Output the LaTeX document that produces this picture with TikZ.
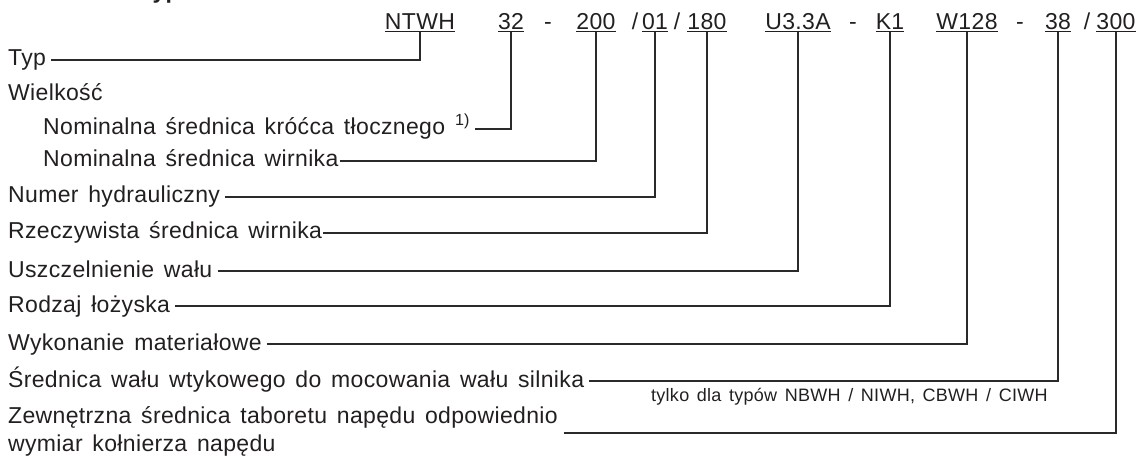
\documentclass[tikz,border=0pt]{standalone}
\usepackage{fontspec}
\setmainfont{Liberation Sans}[LetterSpace=1.5,WordSpace=1.45]
\newfontfamily\headfont{Liberation Sans}[LetterSpace=1.5]
\definecolor{txt}{HTML}{231F20}
\definecolor{ln}{HTML}{2A2A2A}
\begin{document}
\begin{tikzpicture}[x=1pt,y=-1pt,
  lbl/.style={anchor=base west,inner sep=0pt,text=txt,font=\fontsize{23}{28}\selectfont},
  code/.style={anchor=base,inner sep=0pt,text=txt,font=\fontsize{23}{28}\selectfont},
  note/.style={anchor=base west,inner sep=0pt,text=txt,font=\fontsize{18}{22}\selectfont},
  conn/.style={draw=ln,line width=1.2pt}]
\useasboundingbox (0,0) rectangle (1138,457);
% cut-off heading
\node[anchor=base west,inner sep=0pt,text=txt,font=\headfont\bfseries\fontsize{23}{28}\selectfont] (head) at (8,-1.5) {Oznaczenie typu};
% code row
\node[code] (cNTWH) at (420,30) {\underline{NTWH}};
\node[code] (c32) at (511,30) {\underline{32}};
\node[code] (s1) at (548,30) {-};
\node[code] (c200) at (596,30) {\underline{200}};
\node[code] (s2) at (635,30) {/};
\node[code] (c01) at (655,30) {\underline{01}};
\node[code] (s3) at (677,30) {/};
\node[code] (c180) at (707,30) {\underline{180}};
\node[code] (cU) at (798,30) {\underline{U3.3A}};
\node[code] (s4) at (853,30) {-};
\node[code] (cK) at (890,30) {\underline{K1}};
\node[code] (cW) at (967,30) {\underline{W128}};
\node[code] (s5) at (1020,30) {-};
\node[code] (c38) at (1058,30) {\underline{38}};
\node[code] (s6) at (1087,30) {/};
\node[code] (c300) at (1116,30) {\underline{300}};
% labels
\node[lbl] (typ) at (8,66) {Typ};
\node[lbl] (wielk) at (8,101) {Wielkość};
\node[lbl] (nom1) at (43,135) {Nominalna średnica króćca tłocznego \textsuperscript{1)}};
\node[lbl] (nom2) at (43,167) {Nominalna średnica wirnika};
\node[lbl] (num) at (8,203) {Numer hydrauliczny};
\node[lbl] (rzecz) at (8,239) {Rzeczywista średnica wirnika};
\node[lbl] (uszcz) at (8,277) {Uszczelnienie wału};
\node[lbl] (rodz) at (8,312) {Rodzaj łożyska};
\node[lbl] (wyk) at (8,350) {Wykonanie materiałowe};
\node[lbl] (sred) at (8,387) {Średnica wału wtykowego do mocowania wału silnika};
\node[lbl] (zewn) at (8,423) {Zewnętrzna średnica taboretu napędu odpowiednio};
\node[lbl] (wym) at (8,451) {wymiar kołnierza napędu};
\node[note] (tylko) at (651,401) {tylko dla typów NBWH / NIWH, CBWH / CIWH};
% connectors
\draw[conn] ([xshift=5pt,yshift=6pt]typ.base east) -| (cNTWH.south);
\draw[conn] ([xshift=5pt,yshift=6pt]nom1.base east) -| (c32.south);
\draw[conn] ([xshift=1pt,yshift=6pt]nom2.base east) -| (c200.south);
\draw[conn] ([xshift=5pt,yshift=6pt]num.base east) -| (c01.south);
\draw[conn] ([xshift=1pt,yshift=6pt]rzecz.base east) -| (c180.south);
\draw[conn] ([xshift=5pt,yshift=6pt]uszcz.base east) -| (cU.south);
\draw[conn] ([xshift=5pt,yshift=6pt]rodz.base east) -| (cK.south);
\draw[conn] ([xshift=5pt,yshift=6pt]wyk.base east) -| (cW.south);
\draw[conn] ([xshift=5pt,yshift=6pt]sred.base east) -| (c38.south);
\coordinate (zstart) at ([xshift=6pt,yshift=-10pt]zewn.base east);
\draw[conn] (zstart) -| (c300.south);
\end{tikzpicture}
\end{document}
